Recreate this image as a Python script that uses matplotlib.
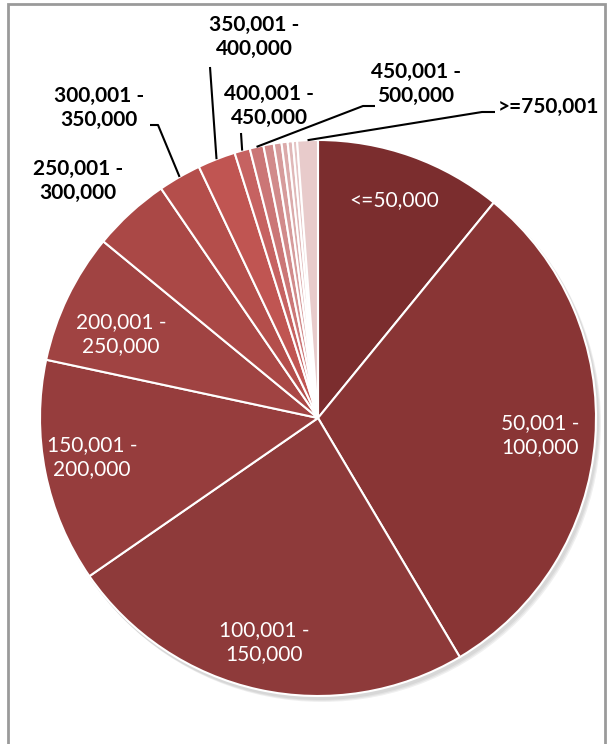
import matplotlib.pyplot as plt
from matplotlib.patches import Rectangle, Circle

# income bands, share of total (%)
bands = ["<=50,000", "50,001 -\n100,000", "100,001 -\n150,000", "150,001 -\n200,000",
         "200,001 -\n250,000", "250,001 -\n300,000", "300,001 -\n350,000", "350,001 -\n400,000",
         "400,001 -\n450,000", "450,001 -\n500,000", "500,001 -\n550,000", "550,001 -\n600,000",
         "600,001 -\n650,000", "650,001 -\n700,000", "700,001 -\n750,000", ">=750,001"]
shares = [10.9, 30.6, 23.9, 13.0, 7.6, 4.5, 2.5, 2.2,
          0.9, 0.8, 0.6, 0.45, 0.35, 0.3, 0.25, 1.2]
colors = ["#7b2d2e", "#893535", "#8e3a3a", "#963d3d", "#a04342", "#aa4846", "#b44e4b", "#c05552",
          "#c66261", "#cb7676", "#d18a8a", "#d69b9b", "#dbaaaa", "#e0b8b8", "#e4c3c3", "#e8cbcb"]

W, H = 607, 744
CX, CY, R = 318, 418, 278


def px(x, y):
    # pixel position measured from the top-left corner -> data coords
    return x, H - y


# label placement (pixel coords from top-left): inside labels white, outside bold black
inside = {0: (394, 200), 1: (540, 435), 2: (264, 642), 3: (92, 457), 4: (121, 334)}
outside = {5: (78, 181), 6: (99, 108), 7: (254, 37), 8: (269, 106), 9: (416, 84), 15: (548, 107)}
# leader lines: points from the label side towards the wedge
leaders = {6: [(150, 125), (158, 125)], 7: [(210, 67)], 8: [(241, 133)],
           9: [(375, 106), (363, 106)], 15: [(495, 112), (482, 112)]}

plt.rcParams['font.family'] = ['Lato', 'DejaVu Sans']
fig = plt.figure(figsize=(W / 100, H / 100), dpi=100)
ax = fig.add_axes([0, 0, 1, 1])

# soft shadow under the pie
for i, a in enumerate([0.05, 0.05, 0.06]):
    ax.add_patch(Circle(px(CX + 2 + i, CY + 3 + i), R + 1, color="black", alpha=a, lw=0, zorder=0))

wedges, _ = ax.pie(shares, colors=colors, startangle=90, counterclock=False,
                   center=px(CX, CY), radius=R,
                   wedgeprops=dict(edgecolor="white", linewidth=1.5))
ax.set_xlim(0, W)
ax.set_ylim(0, H)
ax.set_aspect("equal")
ax.axis("off")

import math
for i, (x, y) in inside.items():
    ax.text(*px(x, y), bands[i], color="white", fontsize=15, ha="center", va="center",
            linespacing=1.25)
for i, (x, y) in outside.items():
    ax.text(*px(x, y), bands[i], color="black", fontsize=15, fontweight="bold",
            ha="center", va="center", linespacing=1.25)

for i, pts in leaders.items():
    w = wedges[i]
    mid = math.radians((w.theta1 + w.theta2) / 2)
    ex = CX + R * math.cos(mid)
    ey = CY - R * math.sin(mid)
    path = [px(*p) for p in pts] + [px(ex, ey)]
    ax.plot([p[0] for p in path], [p[1] for p in path], color="black", lw=1.5,
            solid_capstyle="butt", zorder=5)

# chart frame (bottom edge is outside the crop)
fig.patches.append(Rectangle((8 / W, -0.05), 597 / W, (H - 4) / H + 0.05,
                             transform=fig.transFigure, fill=False,
                             edgecolor="#9a9a9a", lw=2))

fig.savefig("out.png", dpi=100)
